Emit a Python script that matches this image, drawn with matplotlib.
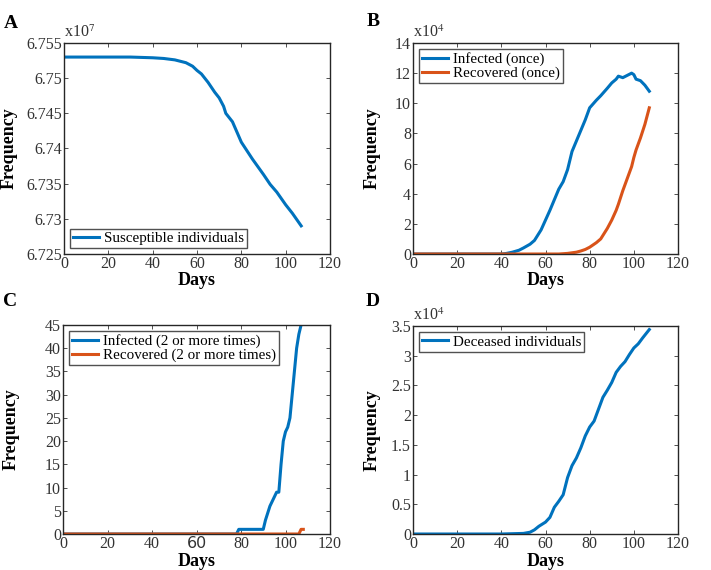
import matplotlib
matplotlib.use('Agg')
from matplotlib import pyplot as plt
import numpy as np

plt.rcParams['font.family'] = ['Liberation Serif', 'DejaVu Serif']
plt.rcParams['mathtext.fontset'] = 'stix'

blue = '#0072BD'
orange = '#D95319'

# panel A: susceptible (x1e7)
days_a = [1, 10, 20, 30, 40, 45, 50, 55, 58, 60, 62, 65, 68, 70, 72, 73, 76, 80, 85, 90, 93, 96, 100, 103, 107]
susceptible = [6.7530, 6.7530, 6.7530, 6.7530, 6.7529, 6.7528, 6.7526, 6.7522, 6.7517, 6.7511, 6.7506,
               6.7494, 6.7480, 6.7472, 6.7460, 6.7450, 6.7438, 6.7409, 6.7385, 6.7363, 6.7349, 6.7338,
               6.7320, 6.7308, 6.7290]

# panel B: infected / recovered once (x1e4)
days_b = [1, 10, 20, 30, 40, 42, 45, 48, 50, 53, 55, 58, 60, 62, 64, 66, 68, 70, 72, 74, 76, 78, 80,
          83, 85, 88, 90, 92, 93, 95, 97, 99, 100, 101, 103, 105, 107]
infected_once = [0, 0, 0, 0, 0, 0.03, 0.12, 0.25, 0.4, 0.65, 0.9, 1.6, 2.25, 2.9, 3.6, 4.3, 4.8, 5.6, 6.8,
                 7.5, 8.2, 8.9, 9.7, 10.2, 10.5, 11.0, 11.35, 11.6, 11.8, 11.7, 11.85, 12.0, 11.9, 11.6,
                 11.5, 11.2, 10.8]
recovered_once = [0, 0, 0, 0, 0, 0, 0, 0, 0, 0, 0, 0, 0, 0, 0, 0, 0.02, 0.04, 0.08, 0.12, 0.2, 0.3, 0.45,
                  0.75, 1.0, 1.7, 2.25, 2.9, 3.3, 4.2, 5.0, 5.8, 6.4, 6.9, 7.7, 8.6, 9.7]

# panel C: infected / recovered 2 or more times
days_c = [1, 20, 40, 60, 78, 79, 80, 85, 90, 91, 92, 93, 94, 95, 96, 97, 98, 99, 100, 101, 102, 103,
          104, 105, 106, 107, 108]
infected_twice = [0, 0, 0, 0, 0, 1, 1, 1, 1, 3, 4.5, 6, 7, 8, 9, 9, 15, 20, 22, 23, 25, 30, 35, 40, 43,
                  45, 47]
recovered_twice = [0, 0, 0, 0, 0, 0, 0, 0, 0, 0, 0, 0, 0, 0, 0, 0, 0, 0, 0, 0, 0, 0, 0, 0, 0, 1, 1]

# panel D: deceased (x1e4)
days_d = [1, 10, 20, 30, 40, 45, 50, 53, 55, 57, 60, 62, 64, 66, 68, 70, 72, 74, 76, 78, 80, 82, 84,
          86, 88, 90, 92, 94, 96, 98, 100, 102, 104, 107]
deceased = [0, 0, 0, 0, 0, 0.005, 0.01, 0.03, 0.07, 0.13, 0.2, 0.28, 0.45, 0.55, 0.66, 0.95, 1.15, 1.28,
            1.45, 1.65, 1.8, 1.9, 2.1, 2.3, 2.42, 2.55, 2.72, 2.82, 2.9, 3.02, 3.13, 3.2, 3.3, 3.44]

fig = plt.figure(figsize=(7.11, 5.7), dpi=100)
W, H = 711, 570


def make_ax(l, t, r, b, ylab_x, xlab_y):
    ax = fig.add_axes([l / W, 1 - b / H, (r - l) / W, (b - t) / H])
    ax.tick_params(direction='in', top=True, right=True, labelsize=11.5, colors='#333333',
                   length=3, width=0.6, pad=1.5)
    for s in ax.spines.values():
        s.set_color('#262626')
        s.set_linewidth(1.0)
    ax.set_xlim(0, 120)
    ax.set_xticks(range(0, 121, 20))
    ax.set_xlabel('Days', fontsize=13, fontweight='bold')
    ax.set_ylabel('Frequency', fontsize=13, fontweight='bold')
    # label positions in figure pixels -> axes coords
    ax.yaxis.set_label_coords((ylab_x - l) / (r - l), 0.5)
    ax.xaxis.set_label_coords(0.5, -(xlab_y - b) / (b - t))
    ax.yaxis.label.set_va('center')
    ax.xaxis.label.set_va('center')
    return ax


def legend(ax, loc):
    leg = ax.legend(loc=loc, fontsize=10.8, frameon=True, fancybox=False, handlelength=1.75,
                    borderpad=0.2, labelspacing=0.05, handletextpad=0.3, borderaxespad=0.4)
    leg.get_frame().set_edgecolor('#262626')
    leg.get_frame().set_linewidth(1.0)


def exponent(ax, txt):
    ax.text(0.0, 1.01, txt, transform=ax.transAxes, fontsize=11.5, color='#333333', va='bottom')


# A
axA = make_ax(64, 43, 330, 254, 9, 280)
axA.plot(days_a, susceptible, color=blue, lw=2.2, label='Susceptible individuals')
axA.set_ylim(6.725, 6.755)
axA.set_yticks([6.725, 6.73, 6.735, 6.74, 6.745, 6.75, 6.755])
axA.set_yticklabels(['6.725', '6.73', '6.735', '6.74', '6.745', '6.75', '6.755'])
exponent(axA, r'x10$^7$')
legend(axA, 'lower left')

# B
axB = make_ax(413, 43, 678, 254, 372, 280)
axB.plot(days_b, infected_once, color=blue, lw=2.2, label='Infected (once)')
axB.plot(days_b, recovered_once, color=orange, lw=2.2, label='Recovered (once)')
axB.set_ylim(0, 14)
axB.set_yticks(range(0, 15, 2))
exponent(axB, r'x10$^4$')
legend(axB, 'upper left')

# C
axC = make_ax(63, 325, 330, 534, 11, 561)
axC.plot(days_c, infected_twice, color=blue, lw=2.2, label='Infected (2 or more times)')
axC.plot(days_c, recovered_twice, color=orange, lw=2.2, label='Recovered (2 or more times)')
axC.set_ylim(0, 45)
axC.set_yticks(range(0, 46, 5))
for lab in axC.get_xticklabels():
    if lab.get_text() == '60':
        lab.set_family('DejaVu Sans')
legend(axC, 'upper left')

# D
axD = make_ax(413, 326, 678, 534, 372, 561)
axD.plot(days_d, deceased, color=blue, lw=2.2, label='Deceased individuals')
axD.set_ylim(0, 3.5)
axD.set_yticks([0, 0.5, 1, 1.5, 2, 2.5, 3, 3.5])
axD.set_yticklabels(['0', '0.5', '1', '1.5', '2', '2.5', '3', '3.5'])
exponent(axD, r'x10$^4$')
legend(axD, 'upper left')

for lbl, x, y in [('A', 11, 23), ('B', 373, 22), ('C', 10, 301), ('D', 373, 301)]:
    fig.text(x / W, 1 - y / H, lbl, fontsize=14, fontweight='bold', va='center', ha='center')

fig.savefig('out.png', dpi=100)
